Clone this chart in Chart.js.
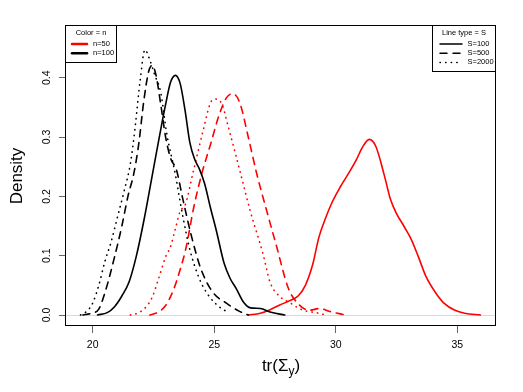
<!DOCTYPE html>
<html>
<head>
<meta charset="utf-8">
<title>Density of tr(Sigma_y)</title>
<script src="https://cdn.jsdelivr.net/npm/chart.js@4.4.1/dist/chart.umd.min.js"></script>
<style>
  html, body { margin: 0; padding: 0; background: #fff; }
  #wrap { width: 523px; height: 392px; }
</style>
</head>
<body>
<div id="wrap"><canvas id="densityChart" width="523" height="392"></canvas></div>
<script>
// density curves: x = tr(Sigma_y), y = density
// n = 100 (black)
const n100s100X = [20.2, 20.6, 20.9, 21.2, 21.5, 21.8, 22.1, 22.4, 22.75, 23.0, 23.2, 23.4, 23.6, 23.8, 24.0, 24.2, 24.4, 24.6, 24.85, 25.1, 25.4, 25.65, 25.9, 26.2, 26.5, 26.9, 27.3, 27.9];
const n100s100Y = [0, 0.004, 0.014, 0.032, 0.056, 0.1, 0.158, 0.224, 0.302, 0.355, 0.392, 0.404, 0.39, 0.345, 0.29, 0.262, 0.245, 0.222, 0.18, 0.14, 0.088, 0.062, 0.045, 0.022, 0.012, 0.011, 0.005, 0];

const n100s500X = [19.6, 19.95, 20.25, 20.5, 20.9, 21.2, 21.45, 21.7, 21.9, 22.1, 22.3, 22.45, 22.6, 22.8, 23.0, 23.2, 23.45, 23.7, 24.05, 24.45, 24.95, 25.5, 26.0, 26.4];
const n100s500Y = [0, 0.003, 0.01, 0.037, 0.098, 0.15, 0.2, 0.24, 0.29, 0.36, 0.41, 0.421, 0.405, 0.355, 0.3, 0.265, 0.244, 0.197, 0.135, 0.078, 0.038, 0.02, 0.007, 0];

const n100s2000X = [19.5, 19.75, 20.0, 20.25, 20.5, 20.75, 21.05, 21.3, 21.55, 21.75, 21.95, 22.15, 22.35, 22.55, 22.8, 23.05, 23.4, 23.7, 24.0, 24.4, 24.8, 25.2, 25.5];
const n100s2000Y = [0, 0.006, 0.02, 0.05, 0.09, 0.122, 0.17, 0.21, 0.255, 0.318, 0.395, 0.447, 0.43, 0.405, 0.375, 0.305, 0.237, 0.168, 0.11, 0.06, 0.031, 0.014, 0.006];

// n = 50 (red)
const n50s100X = [26.4, 26.9, 27.3, 27.7, 28.1, 28.45, 28.75, 29.05, 29.3, 29.55, 29.85, 30.2, 30.5, 30.85, 31.1, 31.38, 31.65, 32.0, 32.25, 32.5, 32.8, 33.1, 33.4, 33.7, 34.1, 34.45, 34.9, 35.3, 35.95];
const n50s100Y = [0, 0.003, 0.009, 0.017, 0.024, 0.032, 0.05, 0.085, 0.13, 0.16, 0.19, 0.217, 0.237, 0.262, 0.283, 0.296, 0.284, 0.235, 0.195, 0.171, 0.15, 0.128, 0.098, 0.066, 0.038, 0.02, 0.008, 0.003, 0];

const n50s500X = [22.35, 22.7, 23.0, 23.3, 23.55, 23.85, 24.15, 24.5, 24.85, 25.2, 25.5, 25.76, 26.05, 26.4, 26.75, 27.15, 27.55, 28.05, 28.5, 28.9, 29.35, 29.75, 30.4];
const n50s500Y = [0, 0.005, 0.016, 0.04, 0.07, 0.115, 0.18, 0.24, 0.288, 0.337, 0.366, 0.373, 0.358, 0.3, 0.238, 0.177, 0.118, 0.045, 0.017, 0.008, 0.011, 0.006, 0];

const n50s2000X = [21.55, 21.9, 22.2, 22.45, 22.7, 23.0, 23.2, 23.4, 23.6, 23.8, 24.15, 24.55, 24.85, 25.03, 25.3, 25.58, 26.05, 26.47, 27.0, 27.3, 27.7, 28.1, 28.6, 29.3, 29.6];
const n50s2000Y = [0, 0.004, 0.014, 0.03, 0.06, 0.098, 0.115, 0.145, 0.175, 0.185, 0.244, 0.312, 0.358, 0.364, 0.357, 0.317, 0.244, 0.177, 0.104, 0.055, 0.031, 0.021, 0.009, 0.003, 0];

const xTicks = [20, 25, 30, 35];
const yTicks = [0, 0.1, 0.2, 0.3, 0.4];
const zeroLine = 0;

const colorTitle = 'Color = n';
const colorLabels = ['n=50', 'n=100'];
const lineTitle = 'Line type = S';
const lineLabels = ['S=100', 'S=500', 'S=2000'];

// styles
const RED = '#ff0000';
const BLACK = '#000000';
const DASHES = { solid: [], dashed: [7, 6], dotted: [0.4, 5.2] };
const FONT = "'Liberation Sans', Arial, Helvetica, sans-serif";

function pts(xs, ys) {
  return xs.map((x, i) => ({ x: x, y: ys[i] }));
}

const curves = [
  { xs: n100s100X, ys: n100s100Y, color: BLACK, dash: DASHES.solid },
  { xs: n100s500X, ys: n100s500Y, color: BLACK, dash: DASHES.dashed },
  { xs: n100s2000X, ys: n100s2000Y, color: BLACK, dash: DASHES.dotted },
  { xs: n50s100X, ys: n50s100Y, color: RED, dash: DASHES.solid },
  { xs: n50s500X, ys: n50s500Y, color: RED, dash: DASHES.dashed },
  { xs: n50s2000X, ys: n50s2000Y, color: RED, dash: DASHES.dotted }
];

const datasets = curves.map(c => ({
  data: pts(c.xs, c.ys),
  showLine: true,
  borderColor: c.color,
  borderWidth: 1.6,
  borderDash: c.dash,
  borderCapStyle: 'round',
  borderJoinStyle: 'round',
  pointRadius: 0,
  fill: false,
  cubicInterpolationMode: 'monotone'
}));

// plot box, the two R style legends and the x title with its subscript
const extras = {
  id: 'extras',
  afterDraw(chart) {
    const ctx = chart.ctx;
    const a = chart.chartArea;
    ctx.save();
    ctx.strokeStyle = BLACK;
    ctx.lineWidth = 1;
    ctx.setLineDash([]);
    ctx.strokeRect(a.left - 0.5, a.top - 0.5, a.right - a.left, a.bottom - a.top);

    function legendBox(x, y, w, h, title, rows, lineX0, lineX1, textX, lw) {
      ctx.fillStyle = '#fff';
      ctx.fillRect(x, y, w, h);
      ctx.strokeStyle = BLACK;
      ctx.lineWidth = 1;
      ctx.setLineDash([]);
      ctx.strokeRect(x, y, w, h);
      ctx.fillStyle = BLACK;
      ctx.font = '7.5px ' + FONT;
      ctx.textAlign = 'center';
      ctx.textBaseline = 'middle';
      ctx.fillText(title, x + w / 2, y + 7);
      rows.forEach((r, i) => {
        const ry = y + 18.5 + i * 9.2;
        ctx.beginPath();
        ctx.strokeStyle = r.color;
        ctx.lineWidth = lw;
        ctx.lineCap = 'round';
        ctx.setLineDash(r.dash);
        ctx.moveTo(lineX0, ry);
        ctx.lineTo(lineX1, ry);
        ctx.stroke();
        ctx.setLineDash([]);
        ctx.fillStyle = BLACK;
        ctx.textAlign = 'left';
        ctx.fillText(r.label, textX, ry);
      });
    }

    legendBox(a.left - 0.5, a.top - 0.5, 51, 37, colorTitle,
      colorLabels.map((l, i) => ({ label: l, color: [RED, BLACK][i], dash: [] })),
      a.left + 6, a.left + 21, a.left + 27, 2.5);

    legendBox(a.right - 63.5, a.top - 0.5, 63, 46, lineTitle,
      lineLabels.map((l, i) => ({ label: l, color: BLACK, dash: [DASHES.solid, DASHES.dashed, DASHES.dotted][i] })),
      a.right - 56, a.right - 34, a.right - 28.5, 1.5);

    // x axis title tr(Sigma_y)
    const parts = [
      { t: 'tr(\u03A3', size: 17, dy: 0 },
      { t: 'y', size: 12, dy: 4 },
      { t: ')', size: 17, dy: 0 }
    ];
    let total = 0;
    parts.forEach(p => { ctx.font = p.size + 'px ' + FONT; p.w = ctx.measureText(p.t).width; total += p.w; });
    let px = (a.left + a.right) / 2 - total / 2;
    const base = 371;
    ctx.fillStyle = BLACK;
    ctx.textAlign = 'left';
    ctx.textBaseline = 'alphabetic';
    parts.forEach(p => {
      ctx.font = p.size + 'px ' + FONT;
      ctx.fillText(p.t, px, base + p.dy);
      px += p.w;
    });
    ctx.restore();
  }
};

new Chart(document.getElementById('densityChart'), {
  type: 'scatter',
  data: { datasets: datasets },
  options: {
    responsive: false,
    animation: false,
    layout: { padding: { top: 26, right: 27, left: 0, bottom: 0 } },
    plugins: {
      legend: { display: false },
      tooltip: { enabled: false }
    },
    scales: {
      x: {
        type: 'linear',
        min: 18.902,
        max: 36.592,
        afterBuildTicks: s => { s.ticks = xTicks.map(v => ({ value: v })); },
        afterFit: s => { s.height = 66; },
        border: { display: false },
        grid: { drawOnChartArea: false, drawTicks: true, tickLength: 7, tickColor: '#666' },
        ticks: {
          color: BLACK,
          font: { family: FONT, size: 10.5 },
          padding: 6,
          maxRotation: 0,
          minRotation: 0,
          callback: v => String(v)
        }
      },
      y: {
        type: 'linear',
        min: -0.01854,
        max: 0.48716,
        afterBuildTicks: s => { s.ticks = yTicks.map(v => ({ value: v })); },
        afterFit: s => { s.width = 66; },
        border: { display: false },
        grid: {
          drawOnChartArea: true,
          drawTicks: true,
          tickLength: 7,
          tickColor: '#666',
          color: c => (c.tick && c.tick.value === zeroLine) ? '#d9d9d9' : 'rgba(0,0,0,0)'
        },
        ticks: {
          color: BLACK,
          font: { family: FONT, size: 10.5 },
          padding: 5,
          minRotation: 90,
          maxRotation: 90,
          crossAlign: 'center',
          callback: v => Number(v).toFixed(1)
        },
        title: {
          display: true,
          text: 'Density',
          color: BLACK,
          font: { family: FONT, size: 17 },
          padding: { top: 7, bottom: 0 }
        }
      }
    }
  },
  plugins: [extras]
});
</script>
</body>
</html>
